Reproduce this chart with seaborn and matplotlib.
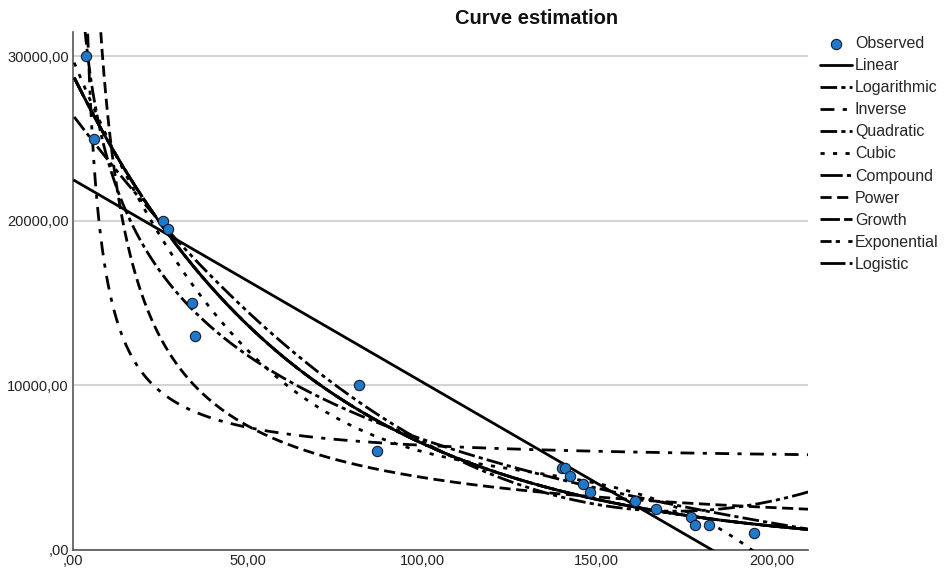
"""
Curve estimation: observerede punkter med tilpassede modeller (SPSS-stil).
"""
import numpy as np
import matplotlib
matplotlib.use("Agg")
import matplotlib.pyplot as plt
from matplotlib.ticker import FuncFormatter
import seaborn as sns

# Observerede data
obs_x = [3.7, 6.1, 25.8, 27.2, 33.9, 34.9, 82.0, 86.9, 140.0, 141.0,
         142.3, 146.0, 148.0, 161.0, 167.0, 177.0, 178.0, 182.0, 195.0]
obs_y = [30000, 25000, 20000, 19500, 15000, 13000, 10000, 6000, 5000, 5000,
         4500, 4000, 3500, 3000, 2500, 2000, 1500, 1500, 1000]

model_names = ["Linear", "Logarithmic", "Inverse", "Quadratic", "Cubic",
               "Compound", "Power", "Growth", "Exponential", "Logistic"]
model_styles = {
    "Linear": "-",
    "Logarithmic": (0, (6, 1.5, 1.5, 1.5)),
    "Inverse": (0, (5, 3, 1.5, 3)),
    "Quadratic": (0, (6, 1.5, 1.5, 1.5, 1.5, 1.5)),
    "Cubic": (0, (1.5, 3)),
    "Compound": (0, (8, 1.5, 1.5, 1.5)),
    "Power": (0, (4, 2)),
    "Growth": (0, (7, 1.5)),
    "Exponential": (0, (4, 1.5, 1.5, 3)),
    "Logistic": (0, (9, 1.5, 1.5, 1.5)),
}

x_max = 210.6
y_max = 31500


def fit_curves(x, y, xs):
    """Tilpasser SPSS' kurvemodeller og returnerer forudsagte værdier."""
    x = np.asarray(x, float)
    y = np.asarray(y, float)
    out = {}
    out["Linear"] = np.polyval(np.polyfit(x, y, 1), xs)
    out["Logarithmic"] = np.polyval(np.polyfit(np.log(x), y, 1), np.log(xs))
    out["Inverse"] = np.polyval(np.polyfit(1 / x, y, 1), 1 / xs)
    out["Quadratic"] = np.polyval(np.polyfit(x, y, 2), xs)
    out["Cubic"] = np.polyval(np.polyfit(x, y, 3), xs)
    expo = np.exp(np.polyval(np.polyfit(x, np.log(y), 1), xs))
    # compound, growth, exponential og logistic (uden øvre grænse) er samme kurve
    for name in ["Compound", "Growth", "Exponential", "Logistic"]:
        out[name] = expo
    out["Power"] = np.exp(np.polyval(np.polyfit(np.log(x), np.log(y), 1), np.log(xs)))
    return out


sns.set_theme(style="white")
plt.rcParams["font.family"] = ["Liberation Sans", "DejaVu Sans"]

fig = plt.figure(figsize=(9.5, 5.77), dpi=100)
ax = fig.add_axes([0.077, 0.047, 0.774, 0.898])

xs = np.linspace(0.3, x_max, 1500)
curves = fit_curves(obs_x, obs_y, xs)
for name in model_names:
    ys = np.where(curves[name] > y_max * 1.5, np.nan, curves[name])
    sns.lineplot(x=xs, y=ys, ax=ax, color="black", lw=2,
                 linestyle=model_styles[name], label=name,
                 sort=False, estimator=None, zorder=3)

sns.scatterplot(x=obs_x, y=obs_y, ax=ax, color="#1f78c8", edgecolor="#1a1a2e",
                linewidth=0.8, s=55, label="Observed", zorder=5)

ax.set_xlim(0, x_max)
ax.set_ylim(0, y_max)
ax.set_xticks([0, 50, 100, 150, 200])
ax.set_yticks([0, 10000, 20000, 30000])


def spss_fmt(v, pos):
    s = f"{v:.2f}".replace(".", ",")
    return s[1:] if s.startswith("0") else s


ax.xaxis.set_major_formatter(FuncFormatter(spss_fmt))
ax.yaxis.set_major_formatter(FuncFormatter(spss_fmt))
ax.tick_params(axis="both", length=0, labelsize=10.5, colors="#222222", pad=3)
ax.grid(axis="y", color="#d4d4d4", lw=1.5)
ax.set_axisbelow(True)
for side in ["top", "right"]:
    ax.spines[side].set_visible(False)
for side in ["left", "bottom"]:
    ax.spines[side].set_color("#555555")
    ax.spines[side].set_linewidth(1.2)
ax.set_xlabel("")
ax.set_ylabel("")

fig.text(0.565, 0.968, "Curve estimation", ha="center", va="center",
         fontsize=14.5, fontweight="bold", color="#111111")

handles, labels = ax.get_legend_handles_labels()
order = ["Observed"] + model_names
lookup = dict(zip(labels, handles))
ax.get_legend().remove()
fig.legend([lookup[n] for n in order], order, loc="upper left",
           bbox_to_anchor=(0.863, 0.937), frameon=False, fontsize=11.5,
           handlelength=2.0, handletextpad=0.2, labelspacing=0.44,
           borderaxespad=0, borderpad=0)

fig.savefig("out.png", dpi=100)
